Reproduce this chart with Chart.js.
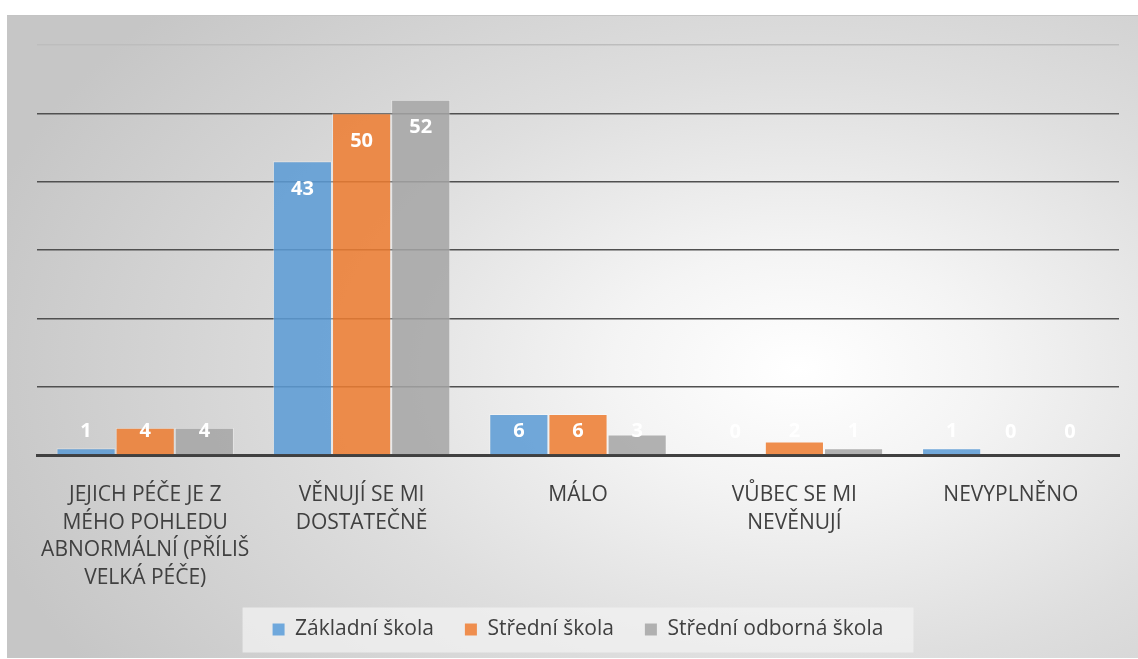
<!DOCTYPE html>
<html>
<head>
<meta charset="utf-8">
<script src="https://cdn.jsdelivr.net/npm/chart.js@4.4.0/dist/chart.umd.min.js"></script>
<style>
  html, body { margin: 0; padding: 0; background: #ffffff; width: 1138px; height: 659px; overflow: hidden; }
  #box {
    position: absolute; left: 7px; top: 15px; width: 1131px; height: 643px;
    background: radial-gradient(ellipse 75% 85% at 70% 55%, #ffffff 0%, #f4f4f4 22%, #dedede 55%, #c6c6c6 100%);
    border-top: 1px solid #c4c4c4;
    box-sizing: border-box;
    overflow: hidden;
  }
  #wrap { position: absolute; left: 0; top: 0; width: 1131px; height: 643px; }
</style>
</head>
<body>
<div id="box"><div id="wrap"><canvas id="c"></canvas></div></div>
<script>
const categories = [
  ["JEJICH PÉČE JE Z", "MÉHO POHLEDU", "ABNORMÁLNÍ (PŘÍLIŠ", "VELKÁ PÉČE)"],
  ["VĚNUJÍ SE MI", "DOSTATEČNĚ"],
  ["MÁLO"],
  ["VŮBEC SE MI", "NEVĚNUJÍ"],
  ["NEVYPLNĚNO"]
];
const seriesNames = ["Základní škola", "Střední škola", "Střední odborná škola"];
const zakladni = [1, 43, 6, 0, 1];
const stredni = [4, 50, 6, 2, 0];
const odborna = [4, 52, 3, 1, 0];
const yTicks = [0, 10, 20, 30, 40, 50, 60];

const colors = ["rgba(91,155,213,0.86)", "rgba(237,125,49,0.86)", "rgba(165,165,165,0.86)"];
const legendColors = ["#6fa8dc", "#ef8e4e", "#b0b0b0"];
const FONT = "'Open Sans', 'DejaVu Sans', sans-serif";

const labelPlugin = {
  id: 'valueLabels',
  afterDatasetsDraw(chart) {
    const ctx = chart.ctx;
    ctx.save();
    ctx.font = "bold 20px " + FONT;
    ctx.fillStyle = "#ffffff";
    ctx.textAlign = "center";
    ctx.textBaseline = "middle";
    chart.data.datasets.forEach((ds, i) => {
      const meta = chart.getDatasetMeta(i);
      meta.data.forEach((el, j) => {
        const base = el.base;
        const y = Math.min(el.y + 28, base - 23);
        ctx.fillText(String(ds.data[j]), el.x, y);
      });
    });
    ctx.restore();
  }
};

const legendBoxPlugin = {
  id: 'legendBox',
  beforeDraw(chart) {
    const lg = chart.legend;
    if (!lg || !lg.legendHitBoxes || !lg.legendHitBoxes.length) return;
    const hb = lg.legendHitBoxes;
    const x0 = hb[0].left - 30;
    const last = hb[hb.length - 1];
    const x1 = last.left + last.width + 30;
    const cy = hb[0].top + hb[0].height / 2;
    const ctx = chart.ctx;
    ctx.save();
    ctx.fillStyle = "rgba(242,242,242,0.75)";
    ctx.fillRect(x0, cy - 22, x1 - x0, 45);
    ctx.restore();
  }
};

new Chart(document.getElementById('c'), {
  type: 'bar',
  data: {
    labels: categories,
    datasets: seriesNames.map((n, i) => ({
      label: n,
      data: [zakladni, stredni, odborna][i],
      backgroundColor: colors[i],
      borderColor: "rgba(255,255,255,0.35)",
      borderWidth: 1,
      categoryPercentage: 0.82,
      barPercentage: 1.0
    }))
  },
  options: {
    responsive: true,
    maintainAspectRatio: false,
    animation: false,
    layout: { padding: { left: 30, right: 19, top: 29, bottom: 9 } },
    plugins: {
      tooltip: { enabled: false },
      legend: {
        position: 'bottom',
        labels: {
          font: { family: FONT, size: 21 },
          color: '#404040',
          boxWidth: 12,
          boxHeight: 12,
          padding: 31,
          generateLabels(chart) {
            return seriesNames.map((n, i) => ({
              text: n, fillStyle: legendColors[i], strokeStyle: legendColors[i],
              lineWidth: 0, datasetIndex: i, fontColor: '#404040'
            }));
          }
        }
      }
    },
    scales: {
      x: {
        grid: { display: false },
        border: { display: true, color: '#404040', width: 3 },
        afterFit(scale) { scale.height -= 22; },
        ticks: {
          font: { family: FONT, size: 21, lineHeight: 1.32 },
          color: '#404040',
          maxRotation: 0,
          autoSkip: false,
          padding: 18
        }
      },
      y: {
        min: 0, max: 60,
        afterBuildTicks(scale) { scale.ticks = yTicks.map(v => ({ value: v })); },
        ticks: { display: false },
        border: { display: false },
        grid: {
          drawTicks: false,
          lineWidth: 1.5,
          color(ctx) {
            const v = ctx.tick ? ctx.tick.value : 0;
            if (v === 0) return 'rgba(0,0,0,0)';
            if (v === 60) return '#bdbdbd';
            return '#505050';
          }
        }
      }
    }
  },
  plugins: [labelPlugin, legendBoxPlugin]
});
</script>
</body>
</html>
